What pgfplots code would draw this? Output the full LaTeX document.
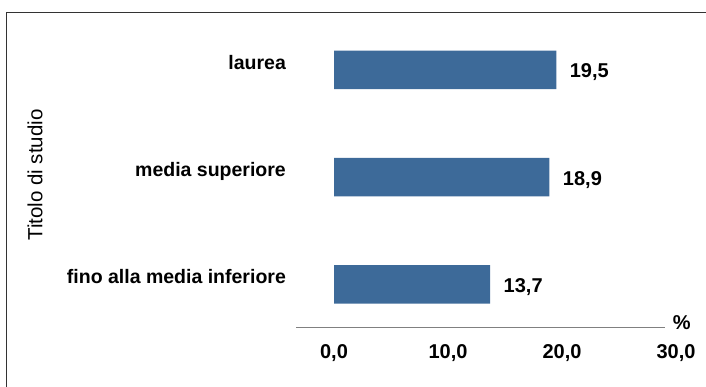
\documentclass[border=0pt]{standalone}
\usepackage{fontspec}
\setmainfont{Liberation Sans}
\usepackage{pgfplots}
\pgfplotsset{compat=1.18}
\definecolor{barblue}{HTML}{3D6A99}
\newcommand{\lblfont}{\fontsize{20}{24}\selectfont\bfseries}
\newcommand{\catfont}{\fontsize{19.5}{23}\selectfont\bfseries}
\begin{document}
\begin{tikzpicture}
\useasboundingbox (0,0) rectangle (706pt,387pt);
\clip (0,0) rectangle (706pt,387pt);
\begin{axis}[
  at={(334pt,102.5pt)}, anchor=origin,
  x=11.4pt, y=107.25pt,
  xmin=-3.3, xmax=30, ymin=-0.4, ymax=2.6,
  xbar, bar width=38.5pt,
  clip=false,
  axis line style={draw=none},
  major tick length=0pt,
  tick style={draw=none},
  /pgf/number format/assume math mode=true,
  xtick={0,10,20,30},
  xticklabel={\pgfmathprintnumber[fixed,fixed zerofill,precision=1,use comma]{\tick}},
  xticklabel style={font=\lblfont, yshift=-14pt},
  ytick={0,1,2},
  yticklabels={fino alla media inferiore, media superiore, laurea},
  yticklabel style={font=\catfont, anchor=base east, xshift=-7pt, yshift=0.5pt},
  ylabel={Titolo di studio},
  ylabel style={at={(axis description cs:-0.6886,0.4737)}, anchor=center, font=\fontsize{20.5}{24}\selectfont},
  nodes near coords={\pgfmathprintnumber[fixed,fixed zerofill,precision=1,use comma]{\pgfplotspointmeta}},
  nodes near coords style={font=\lblfont, xshift=10pt, yshift=-2.5pt},
  point meta=x,
]
\addplot[fill=barblue, draw=none] coordinates {(13.7,0) (18.9,1) (19.5,2)};
\draw[gray, line width=1.5pt] (axis cs:-3.3,-0.4) -- (axis cs:29,-0.4);
\node[font=\lblfont, yshift=5pt] at (axis cs:30.5,-0.4) {\%};
\end{axis}
\draw[line width=1.5pt, black!80] (6.5pt,374.5pt) rectangle (730pt,-30pt);
\end{tikzpicture}
\end{document}
